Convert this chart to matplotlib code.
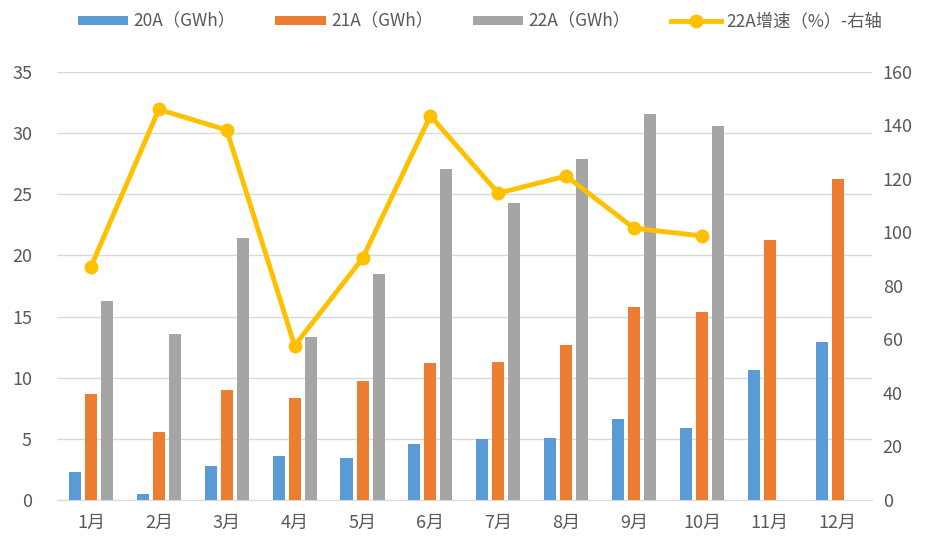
import matplotlib
matplotlib.use("Agg")
import matplotlib.pyplot as plt
import numpy as np

plt.rcParams['font.family'] = ['Noto Sans CJK SC', 'DejaVu Sans']

months = ['1月', '2月', '3月', '4月', '5月', '6月', '7月', '8月', '9月', '10月', '11月', '12月']
a20 = [2.3, 0.5, 2.8, 3.6, 3.45, 4.6, 4.95, 5.1, 6.6, 5.9, 10.65, 12.95]
a21 = [8.7, 5.6, 9.0, 8.35, 9.7, 11.2, 11.3, 12.65, 15.75, 15.4, 21.3, 26.25]
a22 = [16.25, 13.6, 21.45, 13.3, 18.5, 27.05, 24.25, 27.85, 31.6, 30.6, np.nan, np.nan]
growth = [87.2, 146.0, 138.3, 57.7, 90.3, 143.6, 114.7, 121.1, 101.6, 98.7, np.nan, np.nan]
labels = ['20A（GWh）', '21A（GWh）', '22A（GWh）', '22A增速（%）-右轴']

fig = plt.figure(figsize=(9.3, 5.42), dpi=100)
ax = fig.add_axes([0.0613, 0.0775, 0.876, 0.7897])
ax2 = ax.twinx()

x = np.arange(len(months))
w = 0.177
off = 0.236
b1 = ax.bar(x - off, a20, w, color='#5B9BD5', label=labels[0], zorder=3)
b2 = ax.bar(x, a21, w, color='#ED7D31', label=labels[1], zorder=3)
b3 = ax.bar(x + off, a22, w, color='#A5A5A5', label=labels[2], zorder=3)
l1, = ax2.plot(x, growth, color='#FFC000', lw=3.5, marker='o', ms=9, label=labels[3], zorder=4)

ax.set_xlim(-0.5, 11.5)
ax.set_ylim(0, 35)
ax2.set_ylim(0, 160)
ax.set_yticks(np.arange(0, 36, 5))
ax2.set_yticks(np.arange(0, 161, 20))
ax.set_xticks(x)
ax.set_xticklabels(months)

ax.grid(axis='y', color='#D9D9D9', lw=1, zorder=0)
for a in (ax, ax2):
    for s in a.spines.values():
        s.set_visible(False)
    a.tick_params(length=0, labelsize=13, colors='#595959')
ax.spines['bottom'].set_visible(True)
ax.spines['bottom'].set_color('#D9D9D9')
ax.tick_params(axis='y', pad=18)
ax2.tick_params(axis='y', pad=8)
ax.tick_params(axis='x', pad=10)

fig.legend([b1, b2, b3, l1], labels, loc='center', bbox_to_anchor=(0.516, 0.96), ncol=4,
           frameon=False, fontsize=12.5, handlelength=2.9, handleheight=0.5, columnspacing=2.3,
           labelcolor='#595959', handletextpad=0.3)

fig.savefig('out.png', dpi=100)
